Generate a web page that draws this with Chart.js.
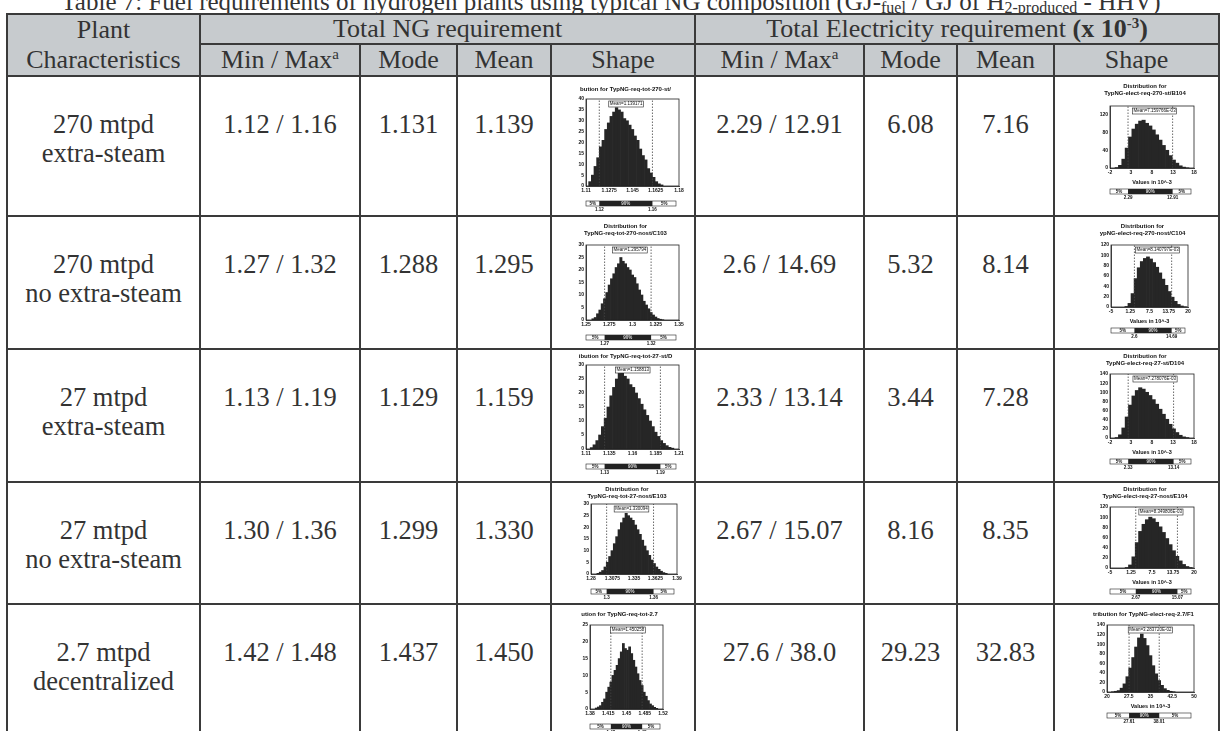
<!DOCTYPE html>
<html>
<head>
<meta charset="utf-8">
<script src="https://cdn.jsdelivr.net/npm/chart.js@4.4.0/dist/chart.umd.min.js"></script>
<style>
  body { margin:0; background:#fff; width:1222px; height:731px; overflow:hidden; position:relative;
         font-family:"Liberation Serif","Times New Roman",serif; color:#333; }
  #title { position:absolute; left:0; top:-12px; width:1222px; text-align:center; font-size:25px; white-space:nowrap; }
  #title sub { font-size:16px; line-height:0; vertical-align:-3px; }
  table { position:absolute; left:6px; top:13px; border-collapse:collapse; table-layout:fixed; width:1214px; }
  th, td { border:2px solid #3a3a3a; padding:0; text-align:center; font-weight:normal; }
  thead th { background:#c7cbce; font-size:26px; line-height:28px; white-space:nowrap; }
  thead sup { font-size:15px; line-height:0; vertical-align:9px; }
  tbody td { vertical-align:top; padding-top:33px; font-size:26.5px; line-height:29px; white-space:nowrap; }
  tbody td.shape { padding:0; position:relative; }
  .hist { position:absolute; left:0; top:0; }
</style>
</head>
<body>
<div id="title">Table 7: Fuel requirements of hydrogen plants using typical NG composition (GJ-<sub>fuel</sub> / GJ of H<sub>2-produced</sub> - HHV)</div>
<table>
  <colgroup>
    <col style="width:193px"><col style="width:160px"><col style="width:97px"><col style="width:94px"><col style="width:144px">
    <col style="width:169px"><col style="width:93px"><col style="width:97px"><col style="width:165px">
  </colgroup>
  <thead>
    <tr style="height:30px">
      <th rowspan="2" style="line-height:30px">Plant<br>Characteristics</th>
      <th colspan="4">Total NG requirement</th>
      <th colspan="4">Total Electricity requirement <b>(x 10<sup>-3</sup>)</b></th>
    </tr>
    <tr style="height:31px">
      <th>Min / Max<sup>a</sup></th><th>Mode</th><th>Mean</th><th>Shape</th>
      <th>Min / Max<sup>a</sup></th><th>Mode</th><th>Mean</th><th>Shape</th>
    </tr>
  </thead>
  <tbody id="rows"></tbody>
</table>

<script>
// table values
const plants = [["270 mtpd","extra-steam"],["270 mtpd","no extra-steam"],["27 mtpd","extra-steam"],["27 mtpd","no extra-steam"],["2.7 mtpd","decentralized"]];
const ngMinMax = ["1.12 / 1.16","1.27 / 1.32","1.13 / 1.19","1.30 / 1.36","1.42 / 1.48"];
const ngMode = ["1.131","1.288","1.129","1.299","1.437"];
const ngMean = ["1.139","1.295","1.159","1.330","1.450"];
const elMinMax = ["2.29 / 12.91","2.6 / 14.69","2.33 / 13.14","2.67 / 15.07","27.6 / 38.0"];
const elMode = ["6.08","5.32","3.44","8.16","29.23"];
const elMean = ["7.16","8.14","7.28","8.35","32.83"];
const rowHeights = [140, 133, 133, 122, 140];

// histogram bins (centres) and counts
const ng270stX = [1.113,1.115,1.117,1.119,1.121,1.123,1.125,1.127,1.129,1.131,1.133,1.135,1.137,1.139,1.141,1.143,1.145,1.147,1.149,1.151,1.153,1.155,1.157,1.159,1.161,1.163,1.165,1.167];
const ng270stN = [2,5,9,13,18,21,26,29,32,34,36,35,34,31,30,28,26,23,21,17,14,12,8,6,4,2,1,0.5];
const el270stX = [-0.4,0.4,1.2,2.0,2.8,3.6,4.4,5.2,6.0,6.8,7.6,8.4,9.2,10.0,10.8,11.6,12.4,13.2,14.0,14.8,15.6,16.4];
const el270stN = [1,6,20,45,70,88,99,106,108,101,95,86,75,63,51,40,28,18,11,5,2,0.5];
const ng270noX = [1.2575,1.26,1.2625,1.265,1.2675,1.27,1.2725,1.275,1.2775,1.28,1.2825,1.285,1.2875,1.29,1.2925,1.295,1.2975,1.3,1.3025,1.305,1.3075,1.31,1.3125,1.315,1.3175,1.32,1.3225,1.325,1.3275,1.33,1.3325];
const ng270noN = [0.5,1,2.5,4,6.5,8.5,11,14,16.5,18.5,21,22.5,25,23.5,22.5,21,20,18,17,14.5,12,10,7.5,6,4.5,3,2,1.2,0.6,0.3,0.1];
const el270noX = [0,1,2,3,4,5,6,7,8,9,10,11,12,13,14,15,16,17,18,19];
const el270noN = [1,7,26,55,76,88,94,97,93,86,77,66,54,42,30,19,11,5,2,0.5];
const ng27stX = [1.116,1.119,1.122,1.125,1.128,1.131,1.134,1.137,1.14,1.143,1.146,1.149,1.152,1.155,1.158,1.161,1.164,1.167,1.17,1.173,1.176,1.179,1.182,1.185,1.188,1.191,1.194,1.197,1.2,1.203];
const ng27stN = [0.5,1.5,3,5,8,11,15,19,22,25,27,28,26,25,23,22,20,18,16,14,12,10,8,6,4.5,3,2,1.2,0.6,0.3];
const el27stX = [-0.4,0.4,1.2,2.0,2.8,3.6,4.4,5.2,6.0,6.8,7.6,8.4,9.2,10.0,10.8,11.6,12.4,13.2,14.0,14.8,15.6,16.4];
const el27stN = [1,7,22,46,72,92,104,110,107,100,93,84,74,63,52,41,30,20,12,6,2.5,1];
const ng27noX = [1.289,1.292,1.295,1.298,1.301,1.304,1.307,1.31,1.313,1.316,1.319,1.322,1.325,1.328,1.331,1.334,1.337,1.34,1.343,1.346,1.349,1.352,1.355,1.358,1.361,1.364,1.367,1.37,1.373,1.376];
const ng27noN = [0.3,0.8,1.5,3,5,7.5,10,13,16,19,22,24,26,25,24,23,21,19,17,14.5,12,10,8,6,4.5,3,2,1.2,0.6,0.3];
const el27noX = [0,1,2,3,4,5,6,7,8,9,10,11,12,13,14,15,16,17,18,19];
const el27noN = [1,6,22,50,72,86,95,100,97,90,81,70,58,46,34,23,14,7,3,1];
const ng2p7X = [1.392,1.396,1.4,1.404,1.408,1.412,1.416,1.42,1.424,1.428,1.432,1.436,1.44,1.444,1.448,1.452,1.456,1.46,1.464,1.468,1.472,1.476,1.48,1.484,1.488,1.492,1.496,1.5,1.504,1.508];
const ng2p7N = [0.3,0.6,1,2,3,5,6.5,8,10,11.5,13,15,17,19.5,18,17.5,18.5,16.5,14.5,12.5,10.5,8.5,7,5,3.8,2.5,1.5,1,0.5,0.2];
const el2p7X = [22,23,24,25,26,27,28,29,30,31,32,33,34,35,36,37,38,39,40,41,42,43];
const el2p7N = [0.5,1.5,3,8,17,32,50,72,94,113,121,112,97,76,55,38,24,14,7,3.5,1.5,0.5];

// axis ticks, percentiles and labels of each histogram (NG / electricity, per row)
const histTitles = [
  ["bution for TypNG-req-tot-270-st/"], ["Distribution for","TypNG-elect-req-270-st/B104"],
  ["Distribution for","TypNG-req-tot-270-nost/C103"], ["Distribution for","ypNG-elect-req-270-nost/C104"],
  ["ibution for TypNG-req-tot-27-st/D"], ["Distribution for","TypNG-elect-req-27-st/D104"],
  ["Distribution for","TypNG-req-tot-27-nost/E103"], ["Distribution for","TypNG-elect-req-27-nost/E104"],
  ["ution for TypNG-req-tot-2.7"], ["tribution for TypNG-elect-req-2.7/F1"]
];
const histXTicks = [
  [1.11,1.1275,1.145,1.1625,1.18], [-2,3,8,13,18],
  [1.25,1.275,1.3,1.325,1.35], [-5,1.25,7.5,13.75,20],
  [1.11,1.135,1.16,1.185,1.21], [-2,3,8,13,18],
  [1.28,1.3075,1.335,1.3625,1.39], [-5,1.25,7.5,13.75,20],
  [1.38,1.415,1.45,1.485,1.52], [20,27.5,35,42.5,50]
];
const histXLabels = [
  ["1.11","1.1275","1.145","1.1625","1.18"], ["-2","3","8","13","18"],
  ["1.25","1.275","1.3","1.325","1.35"], ["-5","1.25","7.5","13.75","20"],
  ["1.11","1.135","1.16","1.185","1.21"], ["-2","3","8","13","18"],
  ["1.28","1.3075","1.335","1.3625","1.39"], ["-5","1.25","7.5","13.75","20"],
  ["1.38","1.415","1.45","1.485","1.52"], ["20","27.5","35","42.5","50"]
];
const histYMax = [40,140,30,120,30,140,30,120,25,140];
const histYStep = [5,20,5,20,5,20,5,20,5,20];
const histP5 = [1.12,2.29,1.27,2.6,1.13,2.33,1.3,2.67,1.42,27.61];
const histP95 = [1.16,12.91,1.32,14.69,1.19,13.14,1.36,15.07,1.48,38.01];
const histP5Label = ["1.12","2.29","1.27","2.6","1.13","2.33","1.3","2.67","1.42","27.61"];
const histP95Label = ["1.16","12.91","1.32","14.69","1.19","13.14","1.36","15.07","1.48","38.01"];
const histMean = [1.139171,7.159766,1.295794,8.140797,1.158813,7.278076,1.330094,8.349806,1.450258,32.8372];
const histMeanText = ["Mean=1.139171","Mean=7.159766E-03","Mean=1.295794","Mean=8.140797E-03","Mean=1.158813",
  "Mean=7.278076E-03","Mean=1.330094","Mean=8.349806E-03","Mean=1.450258","Mean=3.283720E-02"];
const histBins = [[ng270stX,ng270stN],[el270stX,el270stN],[ng270noX,ng270noN],[el270noX,el270noN],[ng27stX,ng27stN],
  [el27stX,el27stN],[ng27noX,ng27noN],[el27noX,el27noN],[ng2p7X,ng2p7N],[el2p7X,el2p7N]];

// plot box inside each cell: left, top, right, bottom, title top
const histBox = [
  [34,22,127,109,9], [55,29,139,91,6],
  [34,28,127,103,6], [56,28,133,90,6],
  [34,15,127,99,3], [55,24,139,88,3],
  [39,21,125,91,3], [55,24,139,85,3],
  [38,20,111,104,6], [52,20,139,87,6]
];

const SANS = '"Liberation Sans", Arial, sans-serif';

// frame, mean tag and the 5% / 90% / 5% delimiter strip
const riskMarks = {
  id: 'riskMarks',
  afterDraw(chart, args, o) {
    const { ctx, chartArea: a } = chart;
    const x = chart.scales.x;
    ctx.save();
    ctx.strokeStyle = '#222';
    ctx.lineWidth = 0.8;
    ctx.strokeRect(a.left, a.top, a.right - a.left, a.bottom - a.top);

    // mean tag
    ctx.font = '4.5px ' + SANS;
    ctx.textBaseline = 'middle';
    const mx = x.getPixelForValue(o.mean) - 15;
    const mw = ctx.measureText(o.meanText).width;
    ctx.fillStyle = '#fff';
    ctx.fillRect(mx - 1, a.top + 2, mw + 2, 6);
    ctx.lineWidth = 0.6;
    ctx.strokeRect(mx - 1, a.top + 2, mw + 2, 6);
    ctx.fillStyle = '#111';
    ctx.textAlign = 'left';
    ctx.fillText(o.meanText, mx, a.top + 5);

    const elec = !!o.units;
    if (elec) {
      ctx.font = 'bold 5.5px ' + SANS;
      ctx.textAlign = 'center';
      ctx.fillText(o.units, (a.left + a.right) / 2, a.bottom + 14);
    }

    // delimiter strip
    const by = a.bottom + (elec ? 21 : 15);
    const x5 = x.getPixelForValue(o.p5), x95 = x.getPixelForValue(o.p95);
    const right = a.right - 3;
    ctx.fillStyle = '#fff';
    ctx.fillRect(a.left, by, right - a.left, 5);
    ctx.strokeRect(a.left, by, right - a.left, 5);
    ctx.fillStyle = '#222';
    ctx.fillRect(x5, by, x95 - x5, 5);
    ctx.font = 'bold 4.5px ' + SANS;
    ctx.textAlign = 'center';
    ctx.fillText('5%', (a.left + x5) / 2, by + 2.6);
    ctx.fillText('5%', (x95 + right) / 2, by + 2.6);
    ctx.fillStyle = '#ddd';
    ctx.fillText('90%', (x5 + x95) / 2, by + 2.6);
    ctx.fillStyle = '#111';
    ctx.fillText(o.p5Label, x5, by + 8.5);
    ctx.fillText(o.p95Label, x95, by + 8.5);
    ctx.restore();
  }
};

function drawHist(td, k, w, h) {
  const [l, t, r, b, tt] = histBox[k];
  const [bx, bn] = histBins[k];
  const lines = histTitles[k];
  const yW = 14, xH = 8, lh = 7;
  const elec = k % 2 === 1;

  const holder = document.createElement('div');
  holder.className = 'hist';
  const canvas = document.createElement('canvas');
  canvas.width = w; canvas.height = h;
  holder.appendChild(canvas);
  td.appendChild(holder);

  const ticks = histXTicks[k], labels = histXLabels[k];
  const ymax = histYMax[k];

  new Chart(canvas, {
    type: 'bar',
    data: {
      datasets: [
        { type: 'line', data: [{ x: histP5[k], y: 0 }, { x: histP5[k], y: ymax }],
          borderColor: '#444', borderWidth: 0.8, borderDash: [1.5, 1.5], pointRadius: 0, order: 0 },
        { type: 'line', data: [{ x: histP95[k], y: 0 }, { x: histP95[k], y: ymax }],
          borderColor: '#444', borderWidth: 0.8, borderDash: [1.5, 1.5], pointRadius: 0, order: 0 },
        { data: bx.map((v, i) => ({ x: v, y: bn[i] })), backgroundColor: '#262626',
          borderWidth: 0, barPercentage: 1, categoryPercentage: 1, order: 1 }
      ]
    },
    options: {
      responsive: false,
      animation: false,
      layout: { padding: { left: l - yW, right: w - r, top: tt, bottom: h - b - xH } },
      plugins: {
        legend: { display: false },
        tooltip: { enabled: false },
        title: { display: true, text: lines, color: '#111',
                 font: { family: SANS, size: 6, lineHeight: lh / 6 },
                 padding: { top: 0, bottom: t - tt - lines.length * lh } },
        riskMarks: { mean: histMean[k], meanText: histMeanText[k], p5: histP5[k], p95: histP95[k],
                     p5Label: histP5Label[k], p95Label: histP95Label[k], units: elec ? 'Values in 10^-3' : '' }
      },
      scales: {
        x: { type: 'linear', min: ticks[0], max: ticks[ticks.length - 1], offset: false,
             grid: { display: false, drawTicks: false }, border: { color: '#222', width: 0.8 },
             afterBuildTicks: s => { s.ticks = ticks.map(v => ({ value: v })); },
             afterFit: s => { s.height = xH; },
             ticks: { autoSkip: false, maxRotation: 0, padding: 2, color: '#111',
                      font: { family: SANS, size: 5, weight: 'bold' },
                      callback: (v, i) => labels[i] } },
        y: { min: 0, max: ymax, grid: { display: false, drawTicks: false }, border: { color: '#222', width: 0.8 },
             afterFit: s => { s.width = yW; },
             ticks: { stepSize: histYStep[k], padding: 2, color: '#111',
                      font: { family: SANS, size: 5, weight: 'bold' } } }
      }
    },
    plugins: [riskMarks]
  });
}

// body rows
const tbody = document.getElementById('rows');
plants.forEach((p, i) => {
  const tr = document.createElement('tr');
  tr.style.height = rowHeights[i] + 'px';
  const cells = [p.join('<br>'), ngMinMax[i], ngMode[i], ngMean[i], null,
                 elMinMax[i], elMode[i], elMean[i], null];
  cells.forEach(c => {
    const td = document.createElement('td');
    if (c === null) td.className = 'shape'; else td.innerHTML = c;
    tr.appendChild(td);
  });
  tbody.appendChild(tr);
});

[...tbody.rows].forEach((tr, i) => {
  const h = rowHeights[i] - 2;
  drawHist(tr.cells[4], i * 2, 142, h);
  drawHist(tr.cells[8], i * 2 + 1, 163, h);
});
</script>
</body>
</html>
